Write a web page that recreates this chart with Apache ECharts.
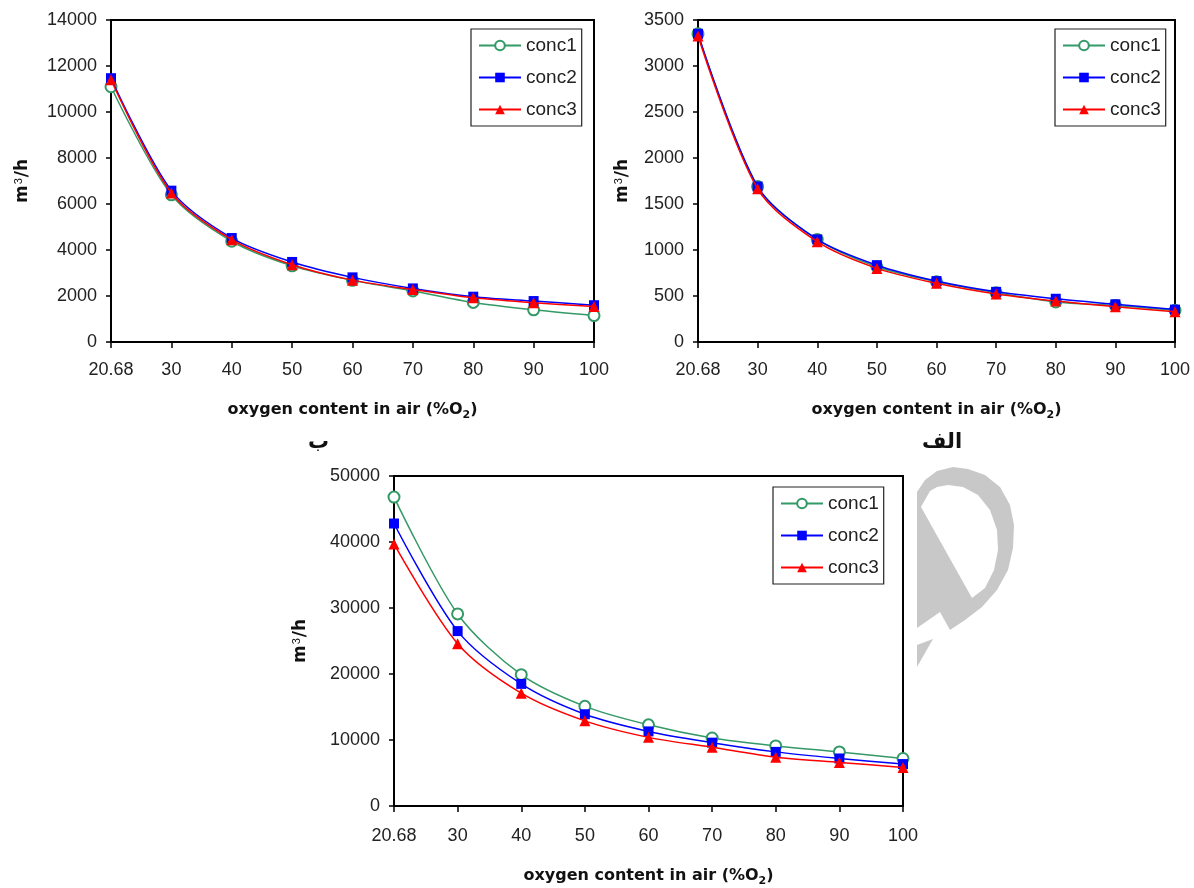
<!DOCTYPE html>
<html>
<head>
<meta charset="utf-8">
<script src="https://cdn.jsdelivr.net/npm/echarts@6/dist/echarts.min.js"></script>
<style>
html,body{margin:0;padding:0;background:#fff;}
#c{width:1194px;height:888px;}
</style>
</head>
<body>
<div id="c"></div>
<script>
// ---- data ----
const categories = ['20.68','30','40','50','60','70','80','90','100'];
const seriesNames = ['conc1','conc2','conc3'];

// chart "ب" (top-left)
const b_conc1 = [11100, 6400, 4380, 3310, 2680, 2220, 1720, 1400, 1150];
const b_conc2 = [11470, 6580, 4520, 3480, 2810, 2330, 1970, 1780, 1600];
const b_conc3 = [11400, 6480, 4450, 3360, 2690, 2280, 1920, 1710, 1540];

// chart "الف" (top-right)
const a_conc1 = [3350, 1690, 1115, 818, 655, 535, 435, 398, 345];
const a_conc2 = [3350, 1690, 1115, 835, 662, 545, 470, 410, 352];
const a_conc3 = [3325, 1665, 1090, 800, 638, 522, 445, 383, 328];

// bottom chart
const c_conc1 = [46800, 29100, 19900, 15100, 12300, 10300, 9100, 8200, 7200];
const c_conc2 = [42800, 26500, 18500, 13900, 11300, 9600, 8200, 7200, 6350];
const c_conc3 = [39700, 24600, 17100, 12900, 10400, 8900, 7400, 6600, 5850];

const yMax = [14000, 3500, 50000];
const yInterval = [2000, 500, 10000];

const panelLabels = ['ب', 'الف'];

// ---- styles ----
const colors = ['#339966', '#0000ff', '#ff0000'];
const symbols = ['emptyCircle', 'rect', 'triangle'];
const symbolSizes = [11, 10, 11];
const FONT = "'Liberation Sans', Arial, sans-serif";
const BOLDFONT = "'DejaVu Sans', 'Liberation Sans', sans-serif";

const grids = [
  {left: 111, top: 20, width: 483, height: 322},
  {left: 698, top: 20, width: 477, height: 322},
  {left: 394, top: 476, width: 509, height: 331}
];
const yNameGap = [78, 65, 83];
const xLabelMargin = [19, 19, 21];
const xNameGap = [57, 57, 59];
const legendPos = [
  {left: 471, top: 29},
  {left: 1055, top: 29},
  {left: 773, top: 487}
];

const dataSets = [
  [b_conc1, b_conc2, b_conc3],
  [a_conc1, a_conc2, a_conc3],
  [c_conc1, c_conc2, c_conc3]
];

const xAxes = [], yAxes = [], series = [], legends = [];
grids.forEach((g, i) => {
  xAxes.push({
    type: 'category', gridIndex: i, data: categories, boundaryGap: false,
    axisLine: {lineStyle: {color: '#000', width: 2}},
    axisTick: {show: true, length: 6, lineStyle: {color: '#000', width: 1.5}},
    axisLabel: {color: '#222', fontFamily: FONT, fontSize: 18, margin: xLabelMargin[i], showMaxLabel: true, showMinLabel: true, interval: 0},
    splitLine: {show: false},
    name: '{t|oxygen content in air (%O}{s|2}{t|)}',
    nameLocation: 'middle', nameGap: xNameGap[i],
    nameTextStyle: {
      rich: {
        t: {fontFamily: BOLDFONT, fontSize: 16, fontWeight: 'bold', color: '#111', lineHeight: 22},
        s: {fontFamily: BOLDFONT, fontSize: 11, fontWeight: 'bold', color: '#111', lineHeight: 22, verticalAlign: 'bottom', padding: [8, 0, 0, 0]}
      }
    }
  });
  yAxes.push({
    type: 'value', gridIndex: i, min: 0, max: yMax[i], interval: yInterval[i],
    axisLine: {show: true, lineStyle: {color: '#000', width: 2}},
    axisTick: {show: true, length: 5, lineStyle: {color: '#000', width: 1.5}},
    axisLabel: {color: '#222', fontFamily: FONT, fontSize: 18, margin: 14, formatter: v => String(v)},
    splitLine: {show: false},
    name: '{t|m}{p|3}{t|/h}',
    nameLocation: 'middle', nameGap: yNameGap[i],
    nameTextStyle: {
      rich: {
        t: {fontFamily: BOLDFONT, fontSize: 17, fontWeight: 'bold', color: '#111', lineHeight: 20},
        p: {fontFamily: FONT, fontSize: 11, color: '#111', lineHeight: 20, verticalAlign: 'top', padding: [0, 1, 8, 1]}
      }
    }
  });
  seriesNames.forEach((n, k) => {
    series.push({
      name: n, type: 'line', xAxisIndex: i, yAxisIndex: i,
      data: dataSets[i][k],
      smooth: 0.3,
      symbol: symbols[k], symbolSize: symbolSizes[k],
      lineStyle: {color: colors[k], width: 1.5},
      itemStyle: {color: colors[k], borderColor: colors[k], borderWidth: k === 0 ? 1.2 : 0},
      z: 2 + k
    });
  });
  legends.push({
    data: seriesNames, orient: 'vertical',
    left: legendPos[i].left, top: legendPos[i].top,
    backgroundColor: '#fff', borderColor: '#222', borderWidth: 1.2,
    padding: [7, 5, 7, 7], itemGap: 13, itemWidth: 42, itemHeight: 12,
    selectedMode: false,
    textStyle: {fontFamily: FONT, fontSize: 19, color: '#222'}
  });
});

const outerMark = [[917,492],[925,480],[937,471],[953,467],[968,469],[985,475],[1000,487],[1010,505],[1014,525],[1013,548],[1008,570],[997,590],[982,607],[965,620],[950,630],[940,612],[917,628]];
const innerMark = [[921,507],[972,598],[985,588],[994,570],[998,550],[997,530],[990,510],[978,495],[963,487],[948,485],[937,487],[930,491]];
const tailMark = [[917,645],[933,639],[917,667]];

const option = {
  animation: false,
  backgroundColor: '#fff',
  grid: grids.map(g => Object.assign({show: true, borderColor: '#000', borderWidth: 2, backgroundColor: '#fff'}, g)),
  xAxis: xAxes,
  yAxis: yAxes,
  legend: legends,
  series: series,
  graphic: [
    {type: 'polygon', shape: {points: outerMark}, style: {fill: '#c8c8c8'}, silent: true},
    {type: 'polygon', shape: {points: innerMark}, style: {fill: '#fff'}, silent: true},
    {type: 'polygon', shape: {points: tailMark}, style: {fill: '#c8c8c8'}, silent: true},
    {type: 'text', left: 308, top: 432, style: {text: panelLabels[0], font: "bold 21px 'DejaVu Sans'", fill: '#111'}},
    {type: 'text', left: 922, top: 432, style: {text: panelLabels[1], font: "bold 21px 'DejaVu Sans'", fill: '#111'}}
  ]
};

const chart = echarts.init(document.getElementById('c'), null, {renderer: 'canvas'});
chart.setOption(option);
</script>
</body>
</html>
